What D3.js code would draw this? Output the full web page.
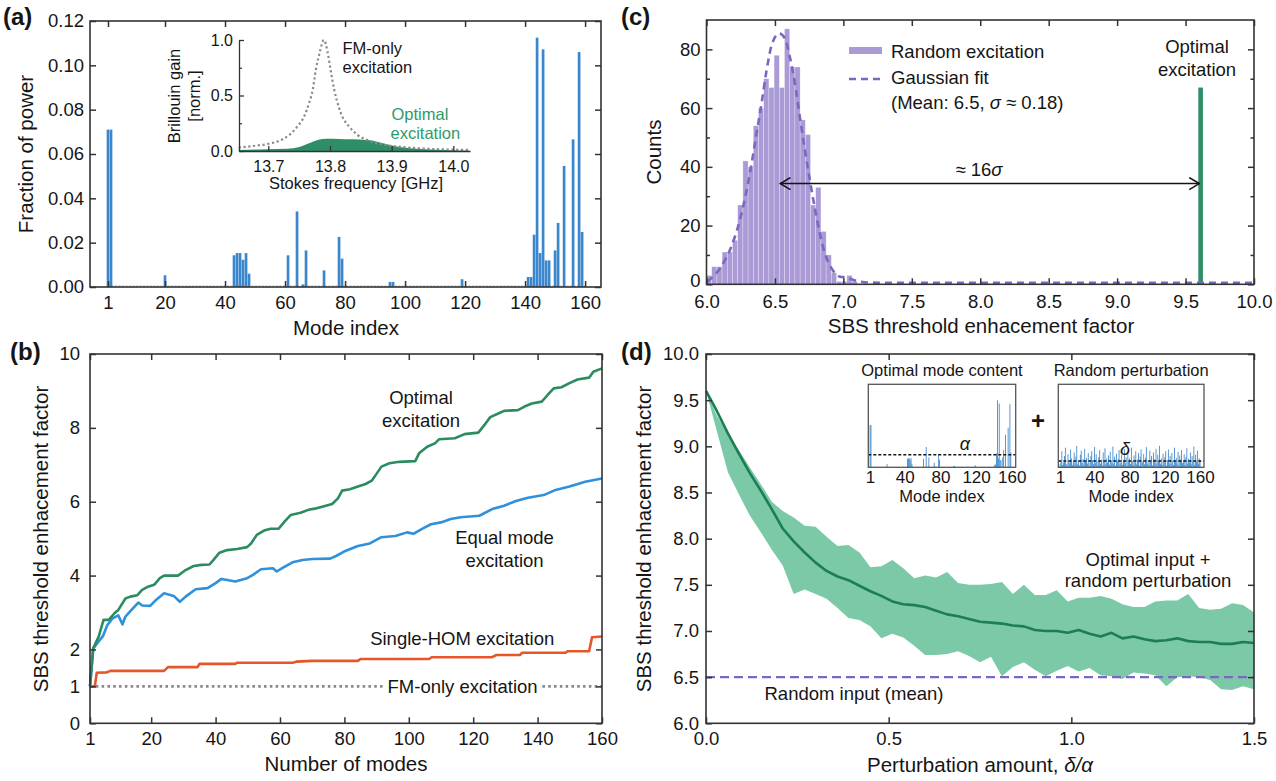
<!DOCTYPE html>
<html>
<head>
<meta charset="utf-8">
<script src="https://cdn.jsdelivr.net/npm/d3@7"></script>
<style>
  body { margin: 0; background: #fff; }
  svg text { font-family: "Liberation Sans", Arial, Helvetica, sans-serif; fill: #151515; }
</style>
</head>
<body>
<svg id="fig" width="1276" height="781"></svg>
<script>
// ---------------- data ----------------
// (a) optimal mode content: fraction of power per mode (all other modes are 0)
const modeIdx   = [1, 2, 20, 43, 44, 45, 46, 47, 48, 61, 64, 66, 67, 73, 78, 79, 95, 96, 119,
                   141, 142, 143, 144, 145, 146, 147, 148, 150, 151, 153, 156, 158, 159];
const modePower = [0.071, 0.071, 0.0053, 0.0143, 0.0153, 0.0153, 0.0123, 0.0153, 0.006, 0.0143, 0.0341,
                   0.0012, 0.0165, 0.0075, 0.0226, 0.0128, 0.0023, 0.0023, 0.0035,
                   0.0045, 0.0045, 0.0236, 0.1125, 0.0153, 0.1072, 0.012, 0.012, 0.0165, 0.0289,
                   0.0546, 0.0666, 0.106, 0.0248];
const modeTicks = [1, 20, 40, 60, 80, 100, 120, 140, 160];
const powerTicks = [0, 0.02, 0.04, 0.06, 0.08, 0.10, 0.12];

// (a) inset: Brillouin gain spectra [GHz, normalised gain]
const gainFM = [[13.652,0.03],[13.675,0.045],[13.699,0.063],[13.718,0.093],[13.734,0.144],[13.747,0.22],
  [13.758,0.31],[13.766,0.43],[13.772,0.55],[13.777,0.73],[13.783,0.88],[13.790,1.0],[13.796,0.895],
  [13.801,0.73],[13.807,0.55],[13.814,0.40],[13.820,0.31],[13.831,0.22],[13.845,0.144],[13.863,0.093],
  [13.890,0.054],[13.923,0.033],[13.966,0.018],[14.025,0.01]];
const gainOptimal = [[13.652,0.01],[13.697,0.015],[13.73,0.02],[13.75,0.036],[13.766,0.07],[13.78,0.1],
  [13.794,0.11],[13.815,0.108],[13.837,0.105],[13.859,0.10],[13.87,0.093],[13.886,0.07],[13.902,0.048],
  [13.923,0.03],[13.955,0.015],[13.993,0.006],[14.025,0.003]];
const freqTicks = [13.7, 13.8, 13.9, 14.0];
const gainTicks = [0, 0.5, 1.0];
const gainMinor = [0.25, 0.75];

// (b) SBS threshold enhancement vs number of modes [modes, factor]
const curveOptimal = [[1,1],[2,2.03],[3.7,2.35],[5.2,2.8],[6.8,2.8],[8.6,2.98],[9.8,3.07],[12,3.38],
  [13.5,3.43],[15.7,3.47],[17.2,3.61],[19,3.7],[20.9,3.75],[22.7,3.93],[24,4.0],[28.3,4.0],[30.7,4.15],
  [33.2,4.26],[35.6,4.29],[38.1,4.3],[39.3,4.42],[41.2,4.62],[43.6,4.69],[46.7,4.72],[49.8,4.77],
  [51,4.87],[52.8,5.1],[55.3,5.23],[57.1,5.27],[59.6,5.27],[61.4,5.46],[63.3,5.64],[66.4,5.7],
  [68.8,5.78],[71.3,5.82],[73.7,5.88],[76.2,5.94],[78,6.09],[79.3,6.3],[81.7,6.34],[84.2,6.41],
  [86.6,6.48],[88.5,6.57],[89.7,6.72],[91.5,6.95],[94,7.04],[97,7.08],[102,7.1],[103.2,7.31],
  [105.7,7.49],[108.1,7.58],[109.4,7.69],[114.3,7.72],[117.3,7.83],[121.6,7.87],[123.5,8.08],
  [125.3,8.29],[127.8,8.39],[129.6,8.46],[133.9,8.48],[135.8,8.57],[138.2,8.66],[141.3,8.71],
  [143.1,8.89],[145,9.07],[147.4,9.1],[149.9,9.21],[152.4,9.31],[156,9.36],[157.3,9.52],[160,9.61]];
const curveEqual = [[1,1],[2,2.03],[5,2.36],[6.4,2.66],[8,2.84],[9.8,2.92],[11.1,2.68],[12,2.89],
  [14.1,3.09],[16,3.27],[17.2,3.19],[19.7,3.18],[21.5,3.34],[24,3.52],[27,3.45],[28.9,3.29],[30.7,3.43],
  [33.8,3.63],[37.5,3.66],[39.9,3.79],[41.8,3.91],[43.6,3.88],[46.1,3.84],[49.8,3.93],[51.6,4.02],
  [54.1,4.17],[57.8,4.2],[59,4.11],[60.8,4.21],[63.9,4.36],[67,4.42],[70,4.45],[75.6,4.46],[77.4,4.53],
  [79.9,4.65],[84.2,4.8],[87.9,4.87],[91.5,5.04],[95.8,5.07],[99.5,5.17],[101.4,5.13],[104.4,5.28],
  [106.9,5.39],[110,5.44],[113,5.53],[116.1,5.58],[121.9,5.62],[125.9,5.8],[129.6,5.89],[133.3,6.02],
  [137,6.11],[141.9,6.18],[145.6,6.32],[149.9,6.41],[154.8,6.54],[160,6.63]];
const curveSingleHOM = [[1,1],[2.5,1],[3.1,1.37],[6.2,1.38],[7.4,1.42],[24,1.42],[25.2,1.52],[34.4,1.52],
  [35,1.61],[46.1,1.61],[46.7,1.64],[63.9,1.64],[65.1,1.67],[70,1.69],[84.2,1.69],[85,1.74],[106.3,1.74],
  [107.1,1.79],[125.9,1.79],[127.2,1.85],[134.5,1.85],[135.2,1.91],[148.7,1.91],[149.3,1.95],[156,1.95],
  [156.9,2.33],[160,2.35]];
const fmOnlyLevel = 1;
const enhTicksB = [0, 1, 2, 4, 6, 8, 10];

// (c) histogram of random excitations
const histStart = 6.0, histBinWidth = 0.038;
const histCounts = [3, 6, 6, 11, 11, 15, 27, 42, 40, 54, 60, 70, 67, 78, 67, 87, 74, 74, 56, 51,
                    27, 33, 18, 10, 4, 1, 1, 3, 1];
const gaussFit = [[6.005,0.9],[6.098,5.4],[6.171,11.7],[6.244,21.9],[6.317,37.8],[6.366,51.4],[6.402,61.6],
  [6.439,72.9],[6.476,81.4],[6.531,85.4],[6.573,83.7],[6.609,77.4],[6.646,68.4],[6.682,57],[6.719,45.7],
  [6.755,35.5],[6.792,25.8],[6.828,17.3],[6.865,10.5],[6.914,5.4],[6.975,2.6],[7.02,2.3],[7.06,1.7],
  [7.1,1.1],[7.2,0.6],[7.4,0.5],[10,0.5]];
const optimalFactor = 9.61, optimalCount = 67;
const arrowFrom = 6.54, arrowTo = 9.60, arrowLevel = 34.3;
const factorTicksC = [6.0, 6.5, 7.0, 7.5, 8.0, 8.5, 9.0, 9.5, 10.0];
const countTicks = [0, 20, 40, 60, 80];
const countMinor = [10, 30, 50, 70];

// (d) enhancement vs perturbation amount
const perturbX = [0,0.03,0.06,0.09,0.12,0.15,0.18,0.21,0.24,0.27,0.30,0.33,0.36,0.39,0.42,0.45,0.48,0.51,
  0.54,0.57,0.60,0.63,0.66,0.69,0.72,0.75,0.78,0.81,0.84,0.87,0.90,0.93,0.96,0.99,1.02,1.05,1.08,1.11,
  1.14,1.17,1.20,1.23,1.26,1.29,1.32,1.35,1.38,1.41,1.44,1.47,1.50];
const perturbMean = [9.60,9.38,9.14,8.92,8.71,8.52,8.32,8.11,7.97,7.85,7.74,7.65,7.59,7.55,7.49,7.43,7.38,
  7.32,7.29,7.28,7.26,7.22,7.18,7.16,7.13,7.10,7.09,7.08,7.06,7.05,7.01,7.00,7.00,6.98,7.01,6.97,6.94,
  6.98,6.92,6.94,6.91,6.89,6.90,6.92,6.89,6.88,6.88,6.86,6.86,6.88,6.87];
const perturbUpper = [9.60,9.33,9.13,8.96,8.77,8.59,8.40,8.30,8.23,8.14,8.13,8.02,7.92,7.93,7.85,7.69,7.70,
  7.77,7.68,7.57,7.60,7.58,7.64,7.52,7.50,7.50,7.51,7.53,7.40,7.50,7.39,7.39,7.44,7.32,7.36,7.36,7.38,
  7.35,7.29,7.26,7.26,7.32,7.33,7.33,7.40,7.25,7.23,7.24,7.30,7.28,7.20];
const perturbLower = [9.60,9.16,8.72,8.48,8.25,8.07,7.88,7.71,7.40,7.45,7.40,7.35,7.25,7.14,7.12,7.05,6.92,
  6.97,6.93,6.84,6.74,6.74,6.75,6.78,6.73,6.66,6.72,6.51,6.61,6.66,6.58,6.51,6.57,6.62,6.56,6.60,6.52,
  6.51,6.48,6.55,6.54,6.52,6.40,6.50,6.51,6.50,6.47,6.37,6.36,6.40,6.37];
const randomMean = 6.5;
const perturbTicks = [0, 0.5, 1.0, 1.5];
const enhTicksD = [6.0, 6.5, 7.0, 7.5, 8.0, 8.5, 9.0, 9.5, 10.0];

// (d) insets: optimal content (same as (a)) and one random perturbation draw
const perturbSample = [0.005,0.012,0.027,0.004,0.008,0.019,0.033,0.006,0.003,0.022,
  0.010,0.007,0.030,0.015,0.004,0.009,0.025,0.006,0.018,0.036,
  0.005,0.011,0.003,0.021,0.028,0.007,0.014,0.004,0.031,0.009,
  0.016,0.006,0.024,0.003,0.008,0.019,0.027,0.012,0.005,0.034,
  0.007,0.022,0.010,0.004,0.017,0.029,0.006,0.013,0.003,0.025,
  0.009,0.032,0.005,0.015,0.008,0.020,0.004,0.026,0.011,0.007,
  0.035,0.006,0.018,0.003,0.023,0.010,0.014,0.029,0.005,0.008,
  0.021,0.004,0.012,0.031,0.007,0.017,0.003,0.026,0.009,0.015,
  0.006,0.033,0.011,0.004,0.020,0.008,0.027,0.005,0.013,0.024,
  0.003,0.018,0.030,0.007,0.010,0.022,0.005,0.016,0.034,0.006,
  0.012,0.004,0.028,0.009,0.019,0.003,0.025,0.014,0.007,0.031,
  0.005,0.021,0.010,0.036,0.006,0.015,0.004,0.023,0.008,0.017,
  0.027,0.003,0.012,0.030,0.007,0.019,0.005,0.024,0.011,0.004,
  0.033,0.009,0.016,0.006,0.026,0.003,0.020,0.013,0.029,0.007,
  0.010,0.022,0.004,0.017,0.032,0.006,0.014,0.008,0.025,0.005,
  0.019,0.011,0.035,0.004,0.021,0.009,0.028,0.006,0.015,0.012];
const alphaLevel = 0.021, deltaLevel = 0.0106;
const insetTicks = [1, 40, 80, 120, 160];

// ---------------- styles ----------------
const INK = '#151515', AXIS = '#333';
const BAR_BLUE = '#3a87cd';
const GREEN = '#2b8c5f', BLUE = '#2f90dc', ORANGE = '#e5572b', GRAY = '#8a8a8a';
const PURPLE_BAR = '#aa9ad5', PURPLE = '#7b67c2';
const BAND = '#7bc9a6', MEAN_LINE = '#1c7e53', OPT_GREEN = '#2e8f66';

const svg = d3.select('#fig');
const defs = svg.append('defs');
defs.append('marker').attr('id', 'chev')
  .attr('viewBox', '0 0 12 14').attr('refX', 11).attr('refY', 7)
  .attr('markerWidth', 12).attr('markerHeight', 14)
  .attr('markerUnits', 'userSpaceOnUse').attr('orient', 'auto-start-reverse')
  .append('path').attr('d', 'M1,1 L11,7 L1,13')
  .attr('fill', 'none').attr('stroke', INK).attr('stroke-width', 1.6);

function txt(g, x, y, s, o = {}) {
  const t = g.append('text').attr('x', x).attr('y', y)
    .attr('font-size', o.size || 18.5).attr('text-anchor', o.anchor || 'start');
  if (s !== null) t.text(s);
  if (o.fill) t.style('fill', o.fill);
  if (o.weight) t.attr('font-weight', o.weight);
  if (o.rotate) t.attr('transform', `rotate(-90,${x},${y})`);
  return t;
}

function styleAxis(sel, size) {
  sel.attr('font-family', null).attr('font-size', null);
  sel.select('.domain').remove();
  sel.selectAll('.tick line').attr('stroke', AXIS).attr('stroke-width', 1.5);
  sel.selectAll('.tick text').attr('font-size', size).style('fill', INK);
}

// boxed axes with inward ticks on all four sides
function frame(g, x, y, c) {
  const [xl, xr] = x.range(), [yb, yt] = y.range();
  const T = c.tick || 6, M = 3.5;
  const none = () => '';
  g.append('g').attr('transform', `translate(0,${yb})`)
    .call(d3.axisBottom(x).tickValues(c.xTicks).tickSizeInner(-T).tickSizeOuter(0)
      .tickPadding(c.xPad || 9).tickFormat(c.xFmt || (d => d)))
    .call(styleAxis, 18.5);
  g.append('g').attr('transform', `translate(0,${yt})`)
    .call(d3.axisTop(x).tickValues(c.xTicks).tickSizeInner(-T).tickSizeOuter(0).tickFormat(none))
    .call(styleAxis, 0);
  const left = g.append('g').attr('transform', `translate(${xl},0)`)
    .call(d3.axisLeft(y).tickValues(c.yTicks).tickSizeInner(-T).tickSizeOuter(0)
      .tickPadding(c.yPad || 6).tickFormat(c.yFmt || (d => d)))
    .call(styleAxis, 18.5);
  if (c.lowLabelLift) {
    // lift the bottom-most y label slightly so it clears the first x label
    left.selectAll('.tick').filter(d => d === c.yTicks[0]).select('text').attr('dy', `${0.32 - c.lowLabelLift}em`);
  }
  g.append('g').attr('transform', `translate(${xr},0)`)
    .call(d3.axisRight(y).tickValues(c.yTicks).tickSizeInner(-T).tickSizeOuter(0).tickFormat(none))
    .call(styleAxis, 0);
  if (c.yMinor) {
    g.append('g').attr('transform', `translate(${xl},0)`)
      .call(d3.axisLeft(y).tickValues(c.yMinor).tickSizeInner(-M).tickSizeOuter(0).tickFormat(none))
      .call(styleAxis, 0);
    g.append('g').attr('transform', `translate(${xr},0)`)
      .call(d3.axisRight(y).tickValues(c.yMinor).tickSizeInner(-M).tickSizeOuter(0).tickFormat(none))
      .call(styleAxis, 0);
  }
  g.append('rect').attr('x', xl).attr('y', yt).attr('width', xr - xl).attr('height', yb - yt)
    .attr('fill', 'none').attr('stroke', AXIS).attr('stroke-width', 1.6);
}

// ================= (a) =================
{
  const g = svg.append('g');
  const x = d3.scaleLinear().domain([-5, 165.3]).range([90, 601]);
  const y = d3.scaleLinear().domain([0, 0.12]).range([287, 21]);
  const bars = modeIdx.map((m, i) => ({ m, v: modePower[i] }));

  g.append('line').attr('x1', x(1)).attr('x2', x(160)).attr('y1', y(0) - 1).attr('y2', y(0) - 1)
    .attr('stroke', '#8fb2d6').attr('stroke-width', 1).attr('stroke-dasharray', '2,1.5');
  g.selectAll('rect.bar').data(bars).join('rect').attr('class', 'bar')
    .attr('x', d => x(d.m - 0.45)).attr('width', x(0.9) - x(0))
    .attr('y', d => y(d.v)).attr('height', d => y(0) - y(d.v)).attr('fill', BAR_BLUE);

  frame(g, x, y, { xTicks: modeTicks, yTicks: powerTicks, yFmt: d3.format('.2f') });
  txt(g, 346, 335, 'Mode index', { size: 20.5, anchor: 'middle' });
  txt(g, 33, 154, 'Fraction of power', { size: 20.5, anchor: 'middle', rotate: true });
  txt(g, 3, 25, '(a)', { size: 24, weight: 'bold' });

  // inset: Brillouin gain spectrum
  const ix = d3.scaleLinear().domain([13.6525, 14.027]).range([239, 470]);
  const iy = d3.scaleLinear().domain([0, 1]).range([151, 40]);
  g.append('path').datum(gainOptimal)
    .attr('d', d3.area().x(d => ix(d[0])).y0(iy(0)).y1(d => iy(d[1])).curve(d3.curveMonotoneX))
    .attr('fill', OPT_GREEN);
  g.append('path').datum(gainFM)
    .attr('d', d3.line().x(d => ix(d[0])).y(d => iy(d[1])).curve(d3.curveMonotoneX))
    .attr('fill', 'none').attr('stroke', GRAY).attr('stroke-width', 2.2).attr('stroke-dasharray', '2.2,2.6');

  const la = g.append('g').attr('transform', `translate(${ix.range()[0]},0)`)
    .call(d3.axisLeft(iy).tickValues(gainTicks).tickSizeInner(-5).tickSizeOuter(0).tickPadding(6)
      .tickFormat(d3.format('.1f')));
  la.attr('font-family', null).attr('font-size', null);
  la.selectAll('.tick line').attr('stroke', AXIS).attr('stroke-width', 1.3);
  la.selectAll('.tick text').attr('font-size', 16).style('fill', INK);
  la.select('.domain').attr('stroke', AXIS).attr('stroke-width', 1.3);
  const lm = g.append('g').attr('transform', `translate(${ix.range()[0]},0)`)
    .call(d3.axisLeft(iy).tickValues(gainMinor).tickSizeInner(-3).tickSizeOuter(0).tickFormat(() => ''));
  lm.select('.domain').remove();
  lm.selectAll('.tick line').attr('stroke', AXIS).attr('stroke-width', 1.2);
  const ba = g.append('g').attr('transform', `translate(0,${iy(0)})`)
    .call(d3.axisBottom(ix).tickValues(freqTicks).tickSizeInner(-5).tickSizeOuter(0).tickPadding(9.5)
      .tickFormat(d3.format('.1f')));
  ba.attr('font-family', null).attr('font-size', null);
  ba.selectAll('.tick line').attr('stroke', AXIS).attr('stroke-width', 1.3);
  ba.selectAll('.tick text').attr('font-size', 16).style('fill', INK);
  ba.select('.domain').attr('stroke', AXIS).attr('stroke-width', 1.3);

  txt(g, 180, 96, 'Brillouin gain', { size: 16.5, anchor: 'middle', rotate: true });
  txt(g, 200, 96, '[norm.]', { size: 16.5, anchor: 'middle', rotate: true });
  txt(g, 356, 188.5, 'Stokes frequency [GHz]', { size: 16.5, anchor: 'middle' });
  txt(g, 342.5, 54, 'FM-only', { size: 16.5 });
  txt(g, 342.5, 72.5, 'excitation', { size: 16.5 });
  txt(g, 391.5, 120, 'Optimal', { size: 16.5, fill: '#2e9a6b' });
  txt(g, 390.5, 138.5, 'excitation', { size: 16.5, fill: '#2e9a6b' });
}

// ================= (b) =================
{
  const g = svg.append('g');
  const x = d3.scaleLinear().domain([1, 160]).range([90, 602]);
  const y = d3.scaleLinear().domain([0, 10]).range([723.3, 354]);
  const line = d3.line().x(d => x(d[0])).y(d => y(d[1]));

  g.append('line').attr('x1', x(1)).attr('x2', x(160)).attr('y1', y(fmOnlyLevel)).attr('y2', y(fmOnlyLevel))
    .attr('stroke', GRAY).attr('stroke-width', 2.6).attr('stroke-dasharray', '2.6,3.2');
  [[curveSingleHOM, ORANGE], [curveEqual, BLUE], [curveOptimal, GREEN]].forEach(([data, col]) => {
    g.append('path').datum(data).attr('d', line).attr('fill', 'none')
      .attr('stroke', col).attr('stroke-width', 2.6).attr('stroke-linejoin', 'round');
  });

  const fm = txt(g, 462.6, 692.5, 'FM-only excitation', { size: 18.5, anchor: 'middle' });
  const bb = fm.node().getBBox();
  g.insert('rect', () => fm.node()).attr('x', bb.x - 3).attr('y', bb.y).attr('width', bb.width + 6)
    .attr('height', bb.height).attr('fill', '#fff');

  txt(g, 421, 404, 'Optimal', { size: 18.5, anchor: 'middle' });
  txt(g, 421, 427, 'excitation', { size: 18.5, anchor: 'middle' });
  txt(g, 504.5, 544, 'Equal mode', { size: 18.5, anchor: 'middle' });
  txt(g, 504.5, 567, 'excitation', { size: 18.5, anchor: 'middle' });
  txt(g, 462.2, 645, 'Single-HOM excitation', { size: 18.5, anchor: 'middle' });

  frame(g, x, y, { xTicks: modeTicks, yTicks: enhTicksB, yPad: 10 });
  txt(g, 346, 771, 'Number of modes', { size: 20.5, anchor: 'middle' });
  txt(g, 48, 539, 'SBS threshold enhacement factor', { size: 20.5, anchor: 'middle', rotate: true });
  txt(g, 10, 360, '(b)', { size: 24, weight: 'bold' });
}

// ================= (c) =================
{
  const g = svg.append('g');
  const x = d3.scaleLinear().domain([6, 10]).range([706.5, 1254]);
  const y = d3.scaleLinear().domain([0, 90]).range([284.3, 20]);
  const bins = histCounts.map((c, i) => ({ x0: histStart + i * histBinWidth, c }));

  g.selectAll('rect.hist').data(bins).join('rect').attr('class', 'hist')
    .attr('x', d => x(d.x0)).attr('width', x(histBinWidth) - x(0))
    .attr('y', d => y(d.c)).attr('height', d => y(0) - y(d.c))
    .attr('fill', PURPLE_BAR).attr('stroke', 'rgba(255,255,255,0.45)').attr('stroke-width', 0.6);
  g.append('rect').attr('x', x(optimalFactor - 0.017)).attr('width', x(0.034) - x(0))
    .attr('y', y(optimalCount)).attr('height', y(0) - y(optimalCount)).attr('fill', OPT_GREEN);
  g.append('path').datum(gaussFit)
    .attr('d', d3.line().x(d => x(d[0])).y(d => y(d[1])).curve(d3.curveMonotoneX))
    .attr('fill', 'none').attr('stroke', PURPLE).attr('stroke-width', 2.6).attr('stroke-dasharray', '7,5');

  g.append('line').attr('x1', x(arrowFrom)).attr('x2', x(arrowTo)).attr('y1', y(arrowLevel)).attr('y2', y(arrowLevel))
    .attr('stroke', INK).attr('stroke-width', 1.5)
    .attr('marker-start', 'url(#chev)').attr('marker-end', 'url(#chev)');
  const s = txt(g, 979, 176, null, { size: 18.5, anchor: 'middle' });
  s.append('tspan').text('≈ 16');
  s.append('tspan').attr('font-style', 'italic').text('σ');

  // legend
  g.append('rect').attr('x', 849).attr('y', 47).attr('width', 33).attr('height', 7).attr('fill', PURPLE_BAR);
  g.append('line').attr('x1', 849).attr('x2', 882).attr('y1', 79).attr('y2', 79)
    .attr('stroke', PURPLE).attr('stroke-width', 2.6).attr('stroke-dasharray', '7,5');
  txt(g, 891, 58, 'Random excitation');
  txt(g, 891, 84, 'Gaussian fit');
  const m = txt(g, 891, 108.5, null);
  m.append('tspan').text('(Mean: 6.5, ');
  m.append('tspan').attr('font-style', 'italic').text('σ');
  m.append('tspan').text(' ≈ 0.18)');
  txt(g, 1197, 53, 'Optimal', { anchor: 'middle' });
  txt(g, 1197, 76, 'excitation', { anchor: 'middle' });

  frame(g, x, y, { xTicks: factorTicksC, yTicks: countTicks, yMinor: countMinor, xFmt: d3.format('.1f'),
    yPad: 6, xPad: 11, lowLabelLift: 0.2 });
  txt(g, 981, 333, 'SBS threshold enhacement factor', { size: 20.5, anchor: 'middle' });
  txt(g, 661, 152, 'Counts', { size: 20.5, anchor: 'middle', rotate: true });
  txt(g, 621, 25, '(c)', { size: 24, weight: 'bold' });
}

// ================= (d) =================
{
  const g = svg.append('g');
  const x = d3.scaleLinear().domain([0, 1.5]).range([706, 1254]);
  const y = d3.scaleLinear().domain([6, 10]).range([723.3, 354]);

  g.append('path').datum(perturbX)
    .attr('d', d3.area().x(d => x(d)).y0((d, i) => y(perturbLower[i])).y1((d, i) => y(perturbUpper[i])))
    .attr('fill', BAND);
  g.append('path').datum(perturbX)
    .attr('d', d3.line().x(d => x(d)).y((d, i) => y(perturbMean[i])))
    .attr('fill', 'none').attr('stroke', MEAN_LINE).attr('stroke-width', 2.6).attr('stroke-linejoin', 'round');
  g.append('line').attr('x1', x(0)).attr('x2', x(1.5)).attr('y1', y(randomMean)).attr('y2', y(randomMean))
    .attr('stroke', PURPLE).attr('stroke-width', 2.4).attr('stroke-dasharray', '9,5');

  txt(g, 764.5, 700, 'Random input (mean)');
  txt(g, 1148, 566, 'Optimal input +', { anchor: 'middle' });
  txt(g, 1148, 587, 'random perturbation', { anchor: 'middle' });

  frame(g, x, y, { xTicks: perturbTicks, yTicks: enhTicksD, xFmt: d3.format('.1f'), yFmt: d3.format('.1f'), yPad: 7 });
  const xl = txt(g, 980, 772, null, { size: 20.5, anchor: 'middle' });
  xl.append('tspan').text('Perturbation amount, ');
  xl.append('tspan').attr('font-style', 'italic').text('δ/α');
  txt(g, 651, 539, 'SBS threshold enhacement factor', { size: 20.5, anchor: 'middle', rotate: true });
  txt(g, 621, 360, '(d)', { size: 24, weight: 'bold' });

  // insets: optimal content and a random perturbation
  const iy = d3.scaleLinear().domain([0, 0.1395]).range([467.3, 384.3]);
  const insets = [
    { range: [868.3, 1015.7], title: 'Optimal mode content',
      bars: modeIdx.map((m, i) => ({ m, v: modePower[i] })), level: alphaLevel, sym: 'α', symX: 965, symY: 450 },
    { range: [1058.3, 1204], title: 'Random perturbation',
      bars: perturbSample.map((v, i) => ({ m: i + 1, v })), level: deltaLevel, sym: 'δ', symX: 1125, symY: 455 }
  ];
  insets.forEach(ins => {
    const ix = d3.scaleLinear().domain([-1, 164.5]).range(ins.range);
    const [x0, x1] = ins.range;
    g.append('rect').attr('x', x0).attr('y', iy(0.1395)).attr('width', x1 - x0).attr('height', iy(0) - iy(0.1395))
      .attr('fill', '#fff');
    g.append('g').selectAll('rect').data(ins.bars).join('rect')
      .attr('x', d => ix(d.m - 0.48)).attr('width', ix(0.96) - ix(0))
      .attr('y', d => iy(d.v)).attr('height', d => iy(0) - iy(d.v)).attr('fill', BAR_BLUE);
    g.append('line').attr('x1', x0).attr('x2', x1).attr('y1', iy(ins.level)).attr('y2', iy(ins.level))
      .attr('stroke', INK).attr('stroke-width', 1.4).attr('stroke-dasharray', '3,2');
    g.append('rect').attr('x', x0).attr('y', iy(0.1395)).attr('width', x1 - x0).attr('height', iy(0) - iy(0.1395))
      .attr('fill', 'none').attr('stroke', '#555').attr('stroke-width', 1.3);
    const ax = g.append('g').attr('transform', `translate(0,${iy(0)})`)
      .call(d3.axisBottom(ix).tickValues(insetTicks).tickSize(0).tickPadding(4));
    ax.attr('font-family', null).attr('font-size', null);
    ax.select('.domain').remove();
    ax.selectAll('.tick text').attr('font-size', 17).style('fill', INK);
    txt(g, (x0 + x1) / 2, 502, 'Mode index', { size: 16.5, anchor: 'middle' });
    txt(g, (x0 + x1) / 2, 376, ins.title, { size: 16.5, anchor: 'middle' });
    txt(g, ins.symX, ins.symY, ins.sym, { size: 18, anchor: 'middle' }).attr('font-style', 'italic');
  });
  txt(g, 1038, 429, '+', { size: 24, anchor: 'middle', weight: 'bold' });
}
</script>
</body>
</html>
